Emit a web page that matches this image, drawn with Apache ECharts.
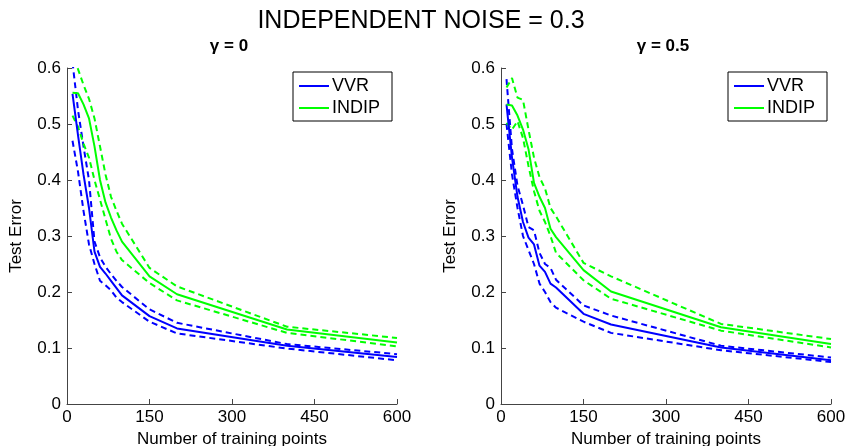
<!DOCTYPE html>
<html>
<head>
<meta charset="utf-8">
<script src="https://cdn.jsdelivr.net/npm/echarts@6/dist/echarts.min.js"></script>
<style>
html,body{margin:0;padding:0;background:#fff;}
#chart{width:851px;height:446px;}
</style>
</head>
<body>
<div id="chart"></div>
<script>
// ---- data ----
const xPoints = [10, 20, 30, 40, 50, 60, 70, 80, 90, 100, 150, 200, 400, 600];
const xTicks = [0, 150, 300, 450, 600];
const yTicks = [0, 0.1, 0.2, 0.3, 0.4, 0.5, 0.6];

// gamma = 0
const vvrMean0  = [0.554, 0.48, 0.41, 0.35, 0.272, 0.245, 0.233, 0.22, 0.207, 0.194, 0.157, 0.135, 0.104, 0.084];
const vvrUpper0 = [0.61, 0.525, 0.46, 0.40, 0.29, 0.262, 0.245, 0.232, 0.22, 0.209, 0.169, 0.145, 0.107, 0.089];
const vvrLower0 = [0.47, 0.415, 0.345, 0.285, 0.25, 0.22, 0.212, 0.203, 0.19, 0.182, 0.147, 0.126, 0.099, 0.078];
const indMean0  = [0.556, 0.555, 0.535, 0.51, 0.46, 0.40, 0.36, 0.333, 0.31, 0.29, 0.228, 0.196, 0.133, 0.110];
const indUpper0 = [0.615, 0.598, 0.57, 0.545, 0.51, 0.46, 0.41, 0.37, 0.345, 0.322, 0.243, 0.21, 0.138, 0.118];
const indLower0 = [0.515, 0.495, 0.465, 0.44, 0.40, 0.365, 0.33, 0.295, 0.272, 0.257, 0.216, 0.185, 0.127, 0.103];

// gamma = 0.5
const vvrMean5  = [0.535, 0.44, 0.37, 0.325, 0.297, 0.285, 0.247, 0.236, 0.215, 0.208, 0.161, 0.142, 0.101, 0.078];
const vvrUpper5 = [0.58, 0.455, 0.39, 0.355, 0.316, 0.31, 0.27, 0.25, 0.243, 0.222, 0.176, 0.158, 0.104, 0.083];
const vvrLower5 = [0.50, 0.41, 0.35, 0.30, 0.275, 0.25, 0.215, 0.20, 0.182, 0.172, 0.147, 0.127, 0.096, 0.075];
const indMean5  = [0.535, 0.533, 0.515, 0.49, 0.455, 0.395, 0.37, 0.35, 0.313, 0.298, 0.239, 0.201, 0.137, 0.107];
const indUpper5 = [0.565, 0.582, 0.547, 0.543, 0.49, 0.44, 0.405, 0.385, 0.35, 0.335, 0.252, 0.228, 0.143, 0.116];
const indLower5 = [0.502, 0.49, 0.505, 0.475, 0.425, 0.38, 0.345, 0.325, 0.30, 0.27, 0.221, 0.188, 0.131, 0.101];

const BLUE = '#0000ff', GREEN = '#00ff00';
const FONT = '"Liberation Sans", Arial, Helvetica, sans-serif';

function pairs(ys) { return xPoints.map((x, i) => [x, ys[i]]); }

function line(name, ys, color, dashed, idx) {
  return {
    type: 'line', name: name, data: pairs(ys),
    xAxisIndex: idx, yAxisIndex: idx,
    showSymbol: false, symbol: 'none', silent: true, clip: true,
    color: color,
    itemStyle: { color: color },
    lineStyle: { color: color, width: 2, type: dashed ? [6, 4] : 'solid' },
    z: dashed ? 2 : 3
  };
}

function xAxisCfg(idx) {
  return {
    type: 'value', gridIndex: idx, min: xTicks[0], max: xTicks[xTicks.length - 1], interval: 150,
    name: 'Number of training points', nameLocation: 'middle', nameGap: 20,
    nameTextStyle: { fontFamily: FONT, fontSize: 17, color: '#000' },
    axisLine: { show: true, onZero: false, lineStyle: { color: '#444', width: 1 } },
    axisTick: { show: true, inside: true, length: 5, lineStyle: { color: '#444' } },
    axisLabel: { fontFamily: FONT, fontSize: 17, color: '#000', margin: 5 },
    splitLine: { show: false }
  };
}
function yAxisCfg(idx) {
  return {
    type: 'value', gridIndex: idx, min: yTicks[0], max: yTicks[yTicks.length - 1], interval: 0.1,
    name: 'Test Error', nameLocation: 'middle', nameGap: 42,
    nameTextStyle: { fontFamily: FONT, fontSize: 17, color: '#000' },
    axisLine: { show: true, onZero: false, lineStyle: { color: '#444', width: 1 } },
    axisTick: { show: true, inside: true, length: 5, lineStyle: { color: '#444' } },
    axisLabel: { fontFamily: FONT, fontSize: 17, color: '#000', margin: 6 },
    splitLine: { show: false }
  };
}
function legendCfg(left) {
  return {
    data: ['VVR', 'INDIP'], orient: 'vertical', left: left, top: 72,
    borderColor: '#000', borderWidth: 1, padding: [5, 12, 4, 6], itemGap: 4,
    itemWidth: 30, itemHeight: 2, icon: 'rect',
    textStyle: { fontFamily: FONT, fontSize: 18, color: '#000', padding: [0, 0, 0, -2] },
    selectedMode: false
  };
}

const chart = echarts.init(document.getElementById('chart'), null, { renderer: 'canvas' });
chart.setOption({
  animation: false,
  backgroundColor: '#fff',
  title: [
    { text: 'INDEPENDENT NOISE = 0.3', left: 416, top: 4, textAlign: 'center',
      textStyle: { fontFamily: FONT, fontSize: 25, fontWeight: 'normal', color: '#000' } },
    { text: 'γ = 0', left: 224, top: 33, textAlign: 'center',
      textStyle: { fontFamily: FONT, fontSize: 17, fontWeight: 'bold', color: '#000' } },
    { text: 'γ = 0.5', left: 658, top: 33, textAlign: 'center',
      textStyle: { fontFamily: FONT, fontSize: 17, fontWeight: 'bold', color: '#000' } }
  ],
  legend: [legendCfg(293), legendCfg(728)],
  grid: [
    { left: 67, top: 68, width: 330, height: 336, containLabel: false, outerBoundsMode: 'none' },
    { left: 501, top: 68, width: 330, height: 336, containLabel: false, outerBoundsMode: 'none' }
  ],
  xAxis: [xAxisCfg(0), xAxisCfg(1)],
  yAxis: [yAxisCfg(0), yAxisCfg(1)],
  series: [
    line('VVR upper', vvrUpper0, BLUE, true, 0),
    line('VVR lower', vvrLower0, BLUE, true, 0),
    line('INDIP upper', indUpper0, GREEN, true, 0),
    line('INDIP lower', indLower0, GREEN, true, 0),
    line('VVR', vvrMean0, BLUE, false, 0),
    line('INDIP', indMean0, GREEN, false, 0),
    line('VVR upper', vvrUpper5, BLUE, true, 1),
    line('VVR lower', vvrLower5, BLUE, true, 1),
    line('INDIP upper', indUpper5, GREEN, true, 1),
    line('INDIP lower', indLower5, GREEN, true, 1),
    line('VVR', vvrMean5, BLUE, false, 1),
    line('INDIP', indMean5, GREEN, false, 1)
  ]
});
</script>
</body>
</html>
